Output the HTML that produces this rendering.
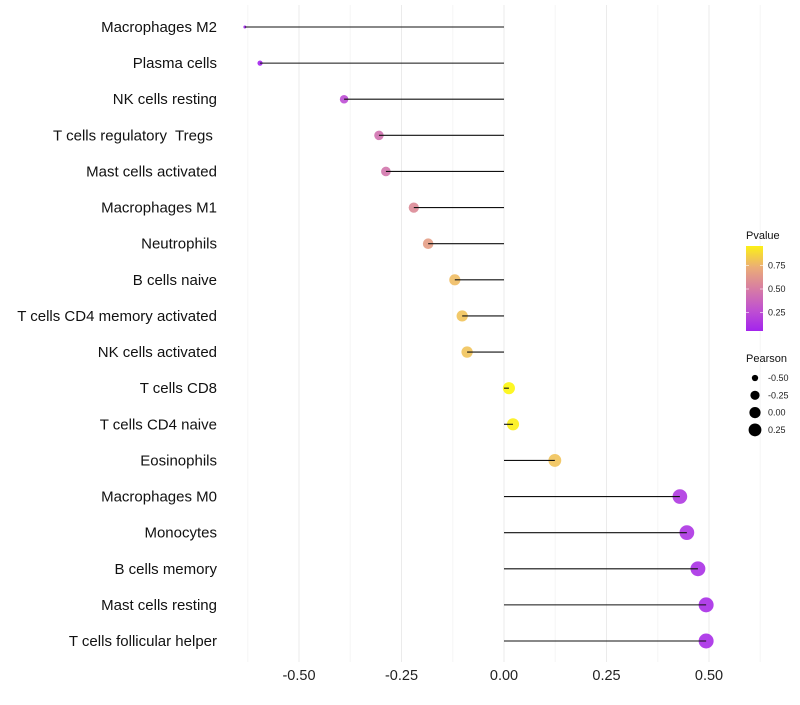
<!DOCTYPE html>
<html><head><meta charset="utf-8"><style>
body{margin:0;background:#fff;font-family:"Liberation Sans",sans-serif}
svg text{font-family:"Liberation Sans",sans-serif;white-space:pre}
</style></head><body>
<svg id="chart" width="800" height="700"></svg>
<script>
const categories=["Macrophages M2","Plasma cells","NK cells resting","T cells regulatory  Tregs ","Mast cells activated","Macrophages M1","Neutrophils","B cells naive","T cells CD4 memory activated","NK cells activated","T cells CD8","T cells CD4 naive","Eosinophils","Macrophages M0","Monocytes","B cells memory","Mast cells resting","T cells follicular helper"];
const pearson=[-0.632,-0.595,-0.39,-0.305,-0.288,-0.22,-0.185,-0.12,-0.102,-0.09,0.012,0.022,0.124,0.429,0.446,0.473,0.493,0.493];
const pvalues=[0.01,0.02,0.22,0.42,0.44,0.55,0.64,0.78,0.8,0.8,0.97,0.95,0.8,0.12,0.1,0.08,0.07,0.07];
const xTicks=[-0.5,-0.25,0,0.25,0.5];
const xTickLabels=["-0.50","-0.25","0.00","0.25","0.50"];
const legendP=[0.75,0.5,0.25];
const legendPLabels=["0.75","0.50","0.25"];
const legendSizes=[-0.5,-0.25,0,0.25];
const legendSizeLabels=["-0.50","-0.25","0.00","0.25"];

const NS="http://www.w3.org/2000/svg";
const svg=document.getElementById('chart');
function mk(t,a,p){const e=document.createElementNS(NS,t);for(const k in a)e.setAttribute(k,a[k]);(p||svg).appendChild(e);return e;}
const xS=v=>504+v*410;
const yS=i=>27+i*(614/17);
const rS=v=>1.5+6*Math.sqrt(Math.max(v+0.632,0)/1.125);
const cStops=[[0,[160,32,240]],[0.25,[192,82,208]],[0.5,[216,128,160]],[0.75,[238,180,112]],[1,[255,255,0]]];
function col(p){
  for(let k=1;k<cStops.length;k++){
    if(p<=cStops[k][0]||k==cStops.length-1){
      const [p0,a]=cStops[k-1],[p1,b]=cStops[k];const t=Math.min(1,Math.max(0,(p-p0)/(p1-p0)));
      return `rgb(${a.map((c,i)=>Math.round(c+(b[i]-c)*t)).join(',')})`;
    }
  }
}

// grid
for(let v=-0.625;v<=0.626;v+=0.125){
  const g=mk('line',{x1:xS(v),x2:xS(v),y1:5,y2:662,stroke:Math.abs((v/0.25)-Math.round(v/0.25))<1e-6?'#ebebeb':'#f5f5f5','stroke-width':1});
  
  
}
xTicks.forEach((v,i)=>{
  const t=mk('text',{x:xS(v),y:680,'text-anchor':'middle','font-size':14.5,fill:'#222'});t.textContent=xTickLabels[i];
  
  
});
categories.forEach((c,i)=>{
  const t=mk('text',{x:217,y:yS(i)+5,'text-anchor':'end','font-size':15,fill:'#111'});t.textContent=c;
  
  
  const d=mk('circle',{cx:xS(pearson[i]),cy:yS(i),r:rS(pearson[i]),fill:col(pvalues[i]),'fill-opacity':0.9});
  
  
  const l=mk('line',{x1:xS(0),x2:xS(pearson[i]),y1:yS(i),y2:yS(i),stroke:'#111','stroke-width':1.1});
  
  
});
// legend pvalue
const defs=mk('defs',{});
const gr=mk('linearGradient',{id:'pg',x1:0,y1:1,x2:0,y2:0},defs);
[0,0.25,0.5,0.75,1].forEach(o=>mk('stop',{offset:o,'stop-color':col(0.02+o*0.93)},gr));
const lt=mk('text',{x:746,y:239,'font-size':11,fill:'#111'});lt.textContent='Pvalue';


const bar=mk('rect',{x:746,y:246,width:17,height:85,fill:'url(#pg)'});


const pY=p=>336-p*94;
legendP.forEach((p,i)=>{
  mk('line',{x1:746,x2:749,y1:pY(p),y2:pY(p),stroke:'#fff','stroke-opacity':0.6});
  mk('line',{x1:760,x2:763,y1:pY(p),y2:pY(p),stroke:'#fff','stroke-opacity':0.6});
  const t=mk('text',{x:768,y:pY(p)+3,'font-size':9,fill:'#222'});t.textContent=legendPLabels[i];
  
  
});
const st=mk('text',{x:746,y:362,'font-size':11,fill:'#111'});st.textContent='Pearson';


legendSizes.forEach((v,i)=>{
  const y=378+i*17.3;
  const c=mk('circle',{cx:755,cy:y,r:rS(v)-0.4,fill:'#000'});
  
  
  const t=mk('text',{x:768,y:y+3,'font-size':9,fill:'#222'});t.textContent=legendSizeLabels[i];
  
  
});
</script>
</body></html>
